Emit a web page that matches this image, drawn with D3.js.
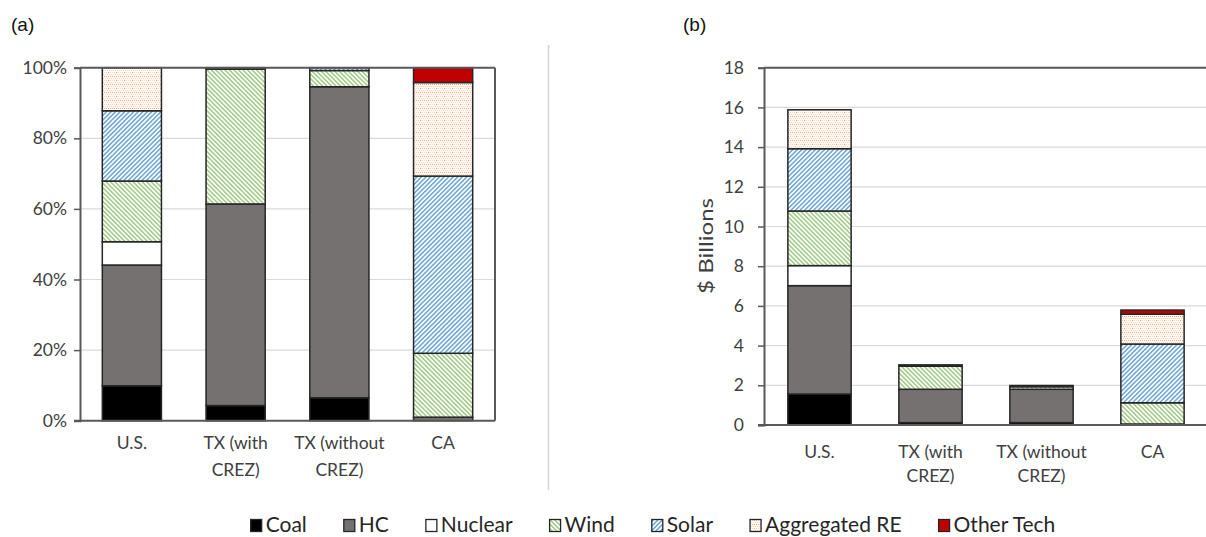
<!DOCTYPE html>
<html>
<head>
<meta charset="utf-8">
<script src="https://cdn.jsdelivr.net/npm/d3@7"></script>
<style>
  html, body { margin: 0; padding: 0; background: #ffffff; }
  svg { display: block; }
  text { font-family: Lato, "Open Sans", "Noto Sans", sans-serif; }
</style>
</head>
<body>
<svg id="chart" width="1206" height="537"></svg>
<script>
// ---------------- data ----------------
const categories = ["U.S.", "TX (with CREZ)", "TX (without CREZ)", "CA"];
const categoryLines = [["U.S."], ["TX (with", "CREZ)"], ["TX (without", "CREZ)"], ["CA"]];
const seriesNames = ["Coal", "HC", "Nuclear", "Wind", "Solar", "Aggregated RE", "Other Tech"];

// Panel (a): share of total, %
const pctCoal      = [9.9, 4.3, 6.5, 0.0];
const pctHC        = [34.2, 57.1, 88.1, 1.0];
const pctNuclear   = [6.6, 0.0, 0.0, 0.0];
const pctWind      = [17.2, 38.2, 4.6, 18.1];
const pctSolar     = [19.9, 0.4, 0.8, 50.2];
const pctAggRE     = [12.2, 0.0, 0.0, 26.5];
const pctOther     = [0.0, 0.0, 0.0, 4.2];

// Panel (b): $ Billions
const bilCoal      = [1.56, 0.12, 0.12, 0.00];
const bilHC        = [5.46, 1.68, 1.68, 0.05];
const bilNuclear   = [1.01, 0.00, 0.00, 0.00];
const bilWind      = [2.75, 1.16, 0.13, 1.07];
const bilSolar     = [3.14, 0.07, 0.06, 2.96];
const bilAggRE     = [1.96, 0.00, 0.00, 1.50];
const bilOther     = [0.00, 0.00, 0.00, 0.21];

const pctTicks = [0, 20, 40, 60, 80, 100];
const bilTicks = [0, 2, 4, 6, 8, 10, 12, 14, 16, 18];

// ---------------- build tables ----------------
function table(cols) {
  return categories.map((c, i) => {
    const row = { cat: c, lines: categoryLines[i] };
    seriesNames.forEach((s, j) => row[s] = cols[j][i]);
    return row;
  });
}
const pctData = table([pctCoal, pctHC, pctNuclear, pctWind, pctSolar, pctAggRE, pctOther]);
const bilData = table([bilCoal, bilHC, bilNuclear, bilWind, bilSolar, bilAggRE, bilOther]);

const svg = d3.select("#chart");

// ---------------- patterns ----------------
const defs = svg.append("defs");
function stripePattern(id, color, angle) {
  const p = defs.append("pattern").attr("id", id)
    .attr("patternUnits", "userSpaceOnUse").attr("width", 3.2).attr("height", 3.2)
    .attr("patternTransform", `rotate(${angle})`);
  p.append("rect").attr("width", 3.2).attr("height", 3.2).attr("fill", "#ffffff");
  p.append("rect").attr("width", 1.5).attr("height", 3.2).attr("fill", color);
}
stripePattern("pWind", "#9fcb84", -45);
stripePattern("pSolar", "#6aa4da", 45);
(function () {
  const p = defs.append("pattern").attr("id", "pAgg")
    .attr("patternUnits", "userSpaceOnUse").attr("width", 8).attr("height", 8);
  p.append("rect").attr("width", 8).attr("height", 8).attr("fill", "#fffbf8");
  for (let yy = 0; yy < 8; yy += 2) {
    for (let xx = (yy / 2) % 2; xx < 8; xx += 2) {
      p.append("rect").attr("x", xx).attr("y", yy).attr("width", 1).attr("height", 1)
        .attr("fill", (yy === 4 || xx === 4) ? "#f3a46f" : "#f9d3b8");
    }
  }
})();

const fills = {
  "Coal": "#000000",
  "HC": "#767171",
  "Nuclear": "#ffffff",
  "Wind": "url(#pWind)",
  "Solar": "url(#pSolar)",
  "Aggregated RE": "url(#pAgg)",
  "Other Tech": "#c00000"
};

const stack = d3.stack().keys(seriesNames);
const axisColor = "#595959";
const labelColor = "#404040";

function drawPanel(opts) {
  const { data, x0, x1, yTop, yBot, max, ticks, fmt, frameRight, lineGap, labelY, tickPad } = opts;
  const g = svg.append("g");
  const x = d3.scaleBand().domain(categories).range([x0, x1])
    .paddingInner(0.43).paddingOuter(0.215);
  const y = d3.scaleLinear().domain([0, max]).range([yBot, yTop]);

  // gridlines
  g.append("g").selectAll("line").data(ticks.filter(t => t > 0 && t < max)).join("line")
    .attr("x1", x0).attr("x2", x1)
    .attr("y1", d => y(d)).attr("y2", d => y(d))
    .attr("stroke", "#d9d9d9").attr("stroke-width", 1.2);

  // bars
  const series = stack(data);
  g.append("g").selectAll("g").data(series).join("g")
    .attr("fill", d => fills[d.key])
    .selectAll("rect").data(d => d.filter(s => s[1] - s[0] > 0)).join("rect")
    .attr("x", d => x(d.data.cat))
    .attr("width", x.bandwidth())
    .attr("y", d => y(d[1]))
    .attr("height", d => y(d[0]) - y(d[1]))
    .attr("stroke", "#262626").attr("stroke-width", 1.5);

  // y axis
  const yAxis = d3.axisLeft(y).tickValues(ticks).tickFormat(fmt).tickSize(6).tickPadding(tickPad);
  const ya = g.append("g").attr("transform", `translate(${x0},0)`).call(yAxis);
  ya.select(".domain").attr("stroke", axisColor).attr("stroke-width", 2);
  ya.selectAll(".tick line").attr("stroke", axisColor).attr("stroke-width", 1.5);
  ya.selectAll(".tick text").attr("fill", labelColor)
    .style("font-family", "Lato, sans-serif").style("font-size", "17.5px");

  // x axis (line only) + category labels
  const xAxis = d3.axisBottom(x).tickSize(0).tickFormat("");
  const xa = g.append("g").attr("transform", `translate(0,${yBot})`).call(xAxis);
  xa.select(".domain").attr("stroke", axisColor).attr("stroke-width", 2)
    .attr("d", `M${x0 - 6},0H${x1}`);

  const lab = g.append("g").selectAll("text").data(data).join("text")
    .attr("text-anchor", "middle")
    .attr("fill", labelColor)
    .style("font-size", "17.5px")
    .attr("x", d => x(d.cat) + x.bandwidth() / 2)
    .attr("y", labelY);
  lab.selectAll("tspan").data(d => d.lines).join("tspan")
    .attr("x", function () { return d3.select(this.parentNode).attr("x"); })
    .attr("dy", (d, i) => i === 0 ? 0 : lineGap)
    .text(d => d);

  // frame top / right
  g.append("line").attr("x1", x0).attr("x2", x1).attr("y1", yTop).attr("y2", yTop)
    .attr("stroke", axisColor).attr("stroke-width", 2);
  if (frameRight) {
    g.append("line").attr("x1", x1).attr("x2", x1).attr("y1", yTop).attr("y2", yBot)
      .attr("stroke", axisColor).attr("stroke-width", 2);
  }
  return g;
}

drawPanel({
  data: pctData, x0: 80, x1: 495, yTop: 67.7, yBot: 420.7, max: 100,
  ticks: pctTicks, fmt: d => d + "%", frameRight: true, lineGap: 26.5, labelY: 449, tickPad: 7
});
drawPanel({
  data: bilData, x0: 764, x1: 1208, yTop: 67.7, yBot: 425, max: 18,
  ticks: bilTicks, fmt: d => d, frameRight: false, lineGap: 23.5, labelY: 458, tickPad: 14
});

// y axis title panel (b)
svg.append("text")
  .attr("transform", "translate(713,246) rotate(-90)")
  .attr("text-anchor", "middle")
  .attr("fill", labelColor)
  .style("font-size", "20px")
  .attr("textLength", 96).attr("lengthAdjust", "spacingAndGlyphs")
  .text("$ Billions");

// panel letters
svg.append("text").attr("x", 11).attr("y", 31)
  .style("font-family", "'Liberation Sans Narrow', 'Liberation Sans', Arial, sans-serif")
  .style("font-size", "19px").attr("fill", "#111").text("(a)");
svg.append("text").attr("x", 683).attr("y", 31)
  .style("font-family", "'Liberation Sans Narrow', 'Liberation Sans', Arial, sans-serif")
  .style("font-size", "19px").attr("fill", "#111").text("(b)");

// separator
svg.append("line").attr("x1", 548.5).attr("x2", 548.5).attr("y1", 45).attr("y2", 490)
  .attr("stroke", "#d4d4d4").attr("stroke-width", 1.5);

// ---------------- legend ----------------
const legend = svg.append("g");
const items = legend.selectAll("g").data(seriesNames).join("g");
items.append("rect")
  .attr("width", 11).attr("height", 12)
  .attr("y", 519.5)
  .attr("fill", d => fills[d])
  .attr("stroke", "#262626").attr("stroke-width", 1.3);
items.append("text")
  .attr("x", 15).attr("y", 531.5)
  .attr("fill", "#262626")
  .style("font-size", "21px")
  .text(d => d);
const widths = [];
items.each(function () {
  widths.push(this.querySelector("text").getComputedTextLength() + 15);
});
const gap = 37;
const total = d3.sum(widths) + gap * (widths.length - 1);
let start = 653 - total / 2;
items.attr("transform", (d, i) => {
  const t = `translate(${start},0)`;
  start += widths[i] + gap;
  return t;
});
</script>
</body>
</html>
